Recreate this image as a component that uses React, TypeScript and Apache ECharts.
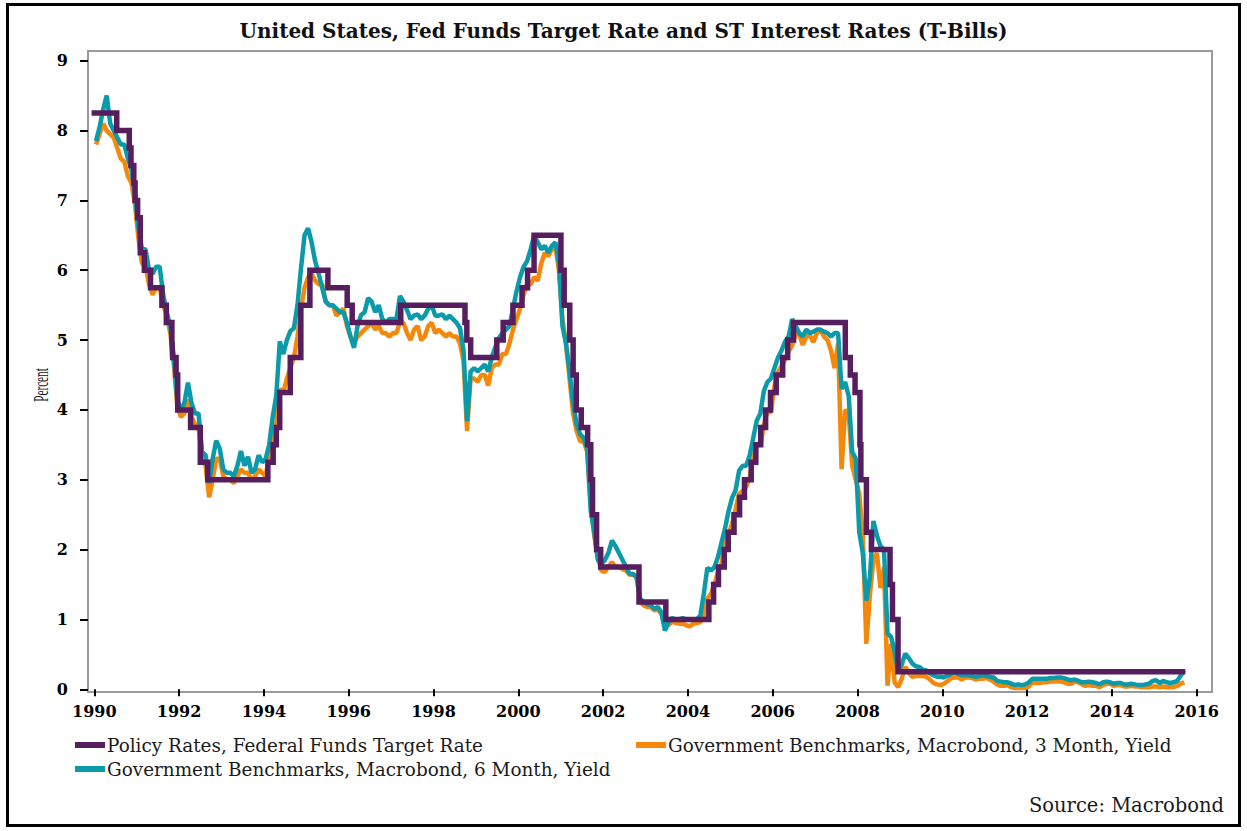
import React, { useEffect, useRef } from "react";
import * as echarts from "echarts";

const START_YEAR = 1990;

const seriesNames = [
  "Policy Rates, Federal Funds Target Rate",
  "Government Benchmarks, Macrobond, 3 Month, Yield",
  "Government Benchmarks, Macrobond, 6 Month, Yield",
];

const fedFundsChanges: [string, number][] = [
  ["1990-01-01", 8.25], ["1990-07-13", 8.0], ["1990-10-29", 7.75], ["1990-11-13", 7.5],
  ["1990-12-07", 7.25], ["1990-12-18", 7.0], ["1991-01-09", 6.75], ["1991-02-01", 6.25],
  ["1991-03-08", 6.0], ["1991-04-30", 5.75], ["1991-08-06", 5.5], ["1991-09-13", 5.25],
  ["1991-10-31", 5.0], ["1991-11-06", 4.75], ["1991-12-06", 4.5], ["1991-12-20", 4.0],
  ["1992-04-09", 3.75], ["1992-07-02", 3.25], ["1992-09-04", 3.0], ["1994-02-04", 3.25],
  ["1994-03-22", 3.5], ["1994-04-18", 3.75], ["1994-05-17", 4.25], ["1994-08-16", 4.75],
  ["1994-11-15", 5.5], ["1995-02-01", 6.0], ["1995-07-06", 5.75], ["1995-12-19", 5.5],
  ["1996-01-31", 5.25], ["1997-03-25", 5.5], ["1998-09-29", 5.25], ["1998-10-15", 5.0],
  ["1998-11-17", 4.75], ["1999-06-30", 5.0], ["1999-08-24", 5.25], ["1999-11-16", 5.5],
  ["2000-02-02", 5.75], ["2000-03-21", 6.0], ["2000-05-16", 6.5], ["2001-01-03", 6.0],
  ["2001-01-31", 5.5], ["2001-03-20", 5.0], ["2001-04-18", 4.5], ["2001-05-15", 4.0],
  ["2001-06-27", 3.75], ["2001-08-21", 3.5], ["2001-09-17", 3.0], ["2001-10-02", 2.5],
  ["2001-11-06", 2.0], ["2001-12-11", 1.75], ["2002-11-06", 1.25], ["2003-06-25", 1.0],
  ["2004-06-30", 1.25], ["2004-08-10", 1.5], ["2004-09-21", 1.75], ["2004-11-10", 2.0],
  ["2004-12-14", 2.25], ["2005-02-02", 2.5], ["2005-03-22", 2.75], ["2005-05-03", 3.0],
  ["2005-06-30", 3.25], ["2005-08-09", 3.5], ["2005-09-20", 3.75], ["2005-11-01", 4.0],
  ["2005-12-13", 4.25], ["2006-01-31", 4.5], ["2006-03-28", 4.75], ["2006-05-10", 5.0],
  ["2006-06-29", 5.25], ["2007-09-18", 4.75], ["2007-10-31", 4.5], ["2007-12-11", 4.25],
  ["2008-01-22", 3.5], ["2008-01-30", 3.0], ["2008-03-18", 2.25], ["2008-04-30", 2.0],
  ["2008-10-08", 1.5], ["2008-10-29", 1.0], ["2008-12-16", 0.25], ["2015-09-01", 0.25],
];

// monthly, Jan 1990 .. Sep 2015
const tbill3m: number[] = [
  7.80, 7.95, 8.10, 8.00, 7.95, 7.90, 7.75, 7.60, 7.55, 7.35, 7.25, 6.95,
  6.45, 6.10, 6.05, 5.80, 5.65, 5.75, 5.75, 5.50, 5.35, 5.10, 4.65, 4.05,
  3.90, 3.95, 4.15, 3.90, 3.80, 3.75, 3.30, 3.20, 2.75, 3.00, 3.30, 3.30,
  3.05, 3.00, 3.00, 2.95, 3.05, 3.15, 3.10, 3.10, 3.00, 3.05, 3.15, 3.10,
  3.05, 3.35, 3.55, 3.80, 4.30, 4.25, 4.45, 4.60, 4.75, 5.05, 5.45, 5.75,
  5.90, 5.95, 5.85, 5.80, 5.80, 5.55, 5.50, 5.50, 5.35, 5.40, 5.45, 5.20,
  5.05, 4.95, 5.05, 5.10, 5.15, 5.20, 5.25, 5.15, 5.20, 5.10, 5.10, 5.05,
  5.10, 5.10, 5.25, 5.25, 5.10, 5.00, 5.15, 5.20, 5.00, 5.05, 5.20, 5.25,
  5.10, 5.15, 5.10, 5.05, 5.10, 5.05, 5.05, 4.95, 4.70, 3.70, 4.45, 4.45,
  4.40, 4.50, 4.50, 4.35, 4.60, 4.65, 4.65, 4.80, 4.80, 4.95, 5.15, 5.30,
  5.45, 5.65, 5.80, 5.80, 5.90, 5.85, 6.10, 6.25, 6.20, 6.30, 6.35, 6.00,
  5.30, 4.95, 4.45, 3.95, 3.70, 3.55, 3.55, 3.40, 2.65, 2.20, 1.90, 1.70,
  1.68, 1.76, 1.82, 1.75, 1.75, 1.72, 1.70, 1.64, 1.65, 1.60, 1.25, 1.20,
  1.18, 1.18, 1.13, 1.14, 1.08, 0.90, 0.92, 0.97, 0.95, 0.94, 0.94, 0.92,
  0.90, 0.94, 0.95, 0.96, 1.05, 1.30, 1.36, 1.50, 1.68, 1.79, 2.10, 2.22,
  2.37, 2.58, 2.80, 2.84, 2.90, 3.04, 3.30, 3.52, 3.49, 3.79, 3.97, 3.97,
  4.34, 4.54, 4.63, 4.72, 4.84, 4.92, 5.08, 5.09, 4.93, 5.05, 5.07, 4.97,
  5.10, 5.15, 5.05, 5.00, 4.85, 4.60, 4.95, 3.15, 4.00, 3.95, 3.20, 3.00,
  2.80, 2.20, 0.65, 1.35, 1.85, 1.95, 1.45, 1.75, 0.05, 0.65, 0.10, 0.03,
  0.15, 0.32, 0.24, 0.18, 0.19, 0.19, 0.19, 0.18, 0.14, 0.09, 0.07, 0.06,
  0.08, 0.12, 0.16, 0.17, 0.17, 0.14, 0.17, 0.17, 0.16, 0.14, 0.15, 0.15,
  0.16, 0.14, 0.11, 0.07, 0.05, 0.05, 0.06, 0.03, 0.02, 0.02, 0.02, 0.02,
  0.04, 0.10, 0.09, 0.09, 0.10, 0.10, 0.11, 0.11, 0.12, 0.11, 0.10, 0.08,
  0.08, 0.11, 0.10, 0.07, 0.05, 0.06, 0.05, 0.05, 0.03, 0.06, 0.08, 0.08,
  0.05, 0.06, 0.06, 0.04, 0.04, 0.05, 0.04, 0.04, 0.03, 0.03, 0.03, 0.04,
  0.04, 0.03, 0.04, 0.03, 0.03, 0.03, 0.05, 0.08, 0.10,
];

const tbill6m: number[] = [
  7.85, 8.05, 8.30, 8.50, 8.10, 8.00, 7.90, 7.80, 7.80, 7.60, 7.45, 7.10,
  6.60, 6.30, 6.30, 6.00, 5.95, 6.05, 6.05, 5.65, 5.40, 5.20, 4.75, 4.15,
  4.00, 4.10, 4.39, 4.10, 3.95, 3.95, 3.40, 3.35, 2.95, 3.30, 3.56, 3.45,
  3.15, 3.10, 3.10, 3.05, 3.20, 3.41, 3.20, 3.33, 3.10, 3.15, 3.35, 3.25,
  3.30, 3.50, 3.90, 4.20, 4.98, 4.80, 5.00, 5.13, 5.17, 5.50, 6.03, 6.50,
  6.60, 6.40, 6.13, 5.95, 5.75, 5.55, 5.50, 5.50, 5.45, 5.40, 5.40, 5.25,
  5.05, 4.89, 5.20, 5.36, 5.40, 5.60, 5.55, 5.40, 5.50, 5.30, 5.25, 5.30,
  5.30, 5.30, 5.63, 5.55, 5.43, 5.30, 5.35, 5.37, 5.30, 5.35, 5.45, 5.50,
  5.35, 5.35, 5.37, 5.30, 5.35, 5.30, 5.25, 5.17, 4.85, 3.84, 4.55, 4.60,
  4.55, 4.60, 4.65, 4.55, 4.75, 4.90, 5.03, 5.10, 5.15, 5.20, 5.45, 5.70,
  5.90, 6.05, 6.13, 6.30, 6.50, 6.40, 6.30, 6.35, 6.25, 6.35, 6.40, 6.10,
  5.20, 4.95, 4.55, 4.10, 3.80, 3.65, 3.60, 3.45, 2.55, 2.25, 1.85, 1.80,
  1.85, 1.95, 2.13, 2.05, 1.95, 1.85, 1.75, 1.65, 1.65, 1.60, 1.30, 1.25,
  1.22, 1.20, 1.15, 1.18, 1.10, 0.84, 0.96, 1.02, 1.00, 1.00, 1.02, 1.00,
  1.00, 1.00, 1.00, 1.05, 1.37, 1.74, 1.70, 1.75, 1.89, 2.10, 2.30, 2.55,
  2.74, 2.85, 3.13, 3.20, 3.20, 3.35, 3.60, 3.85, 3.95, 4.27, 4.40, 4.45,
  4.60, 4.75, 4.85, 4.98, 5.05, 5.30, 5.20, 5.10, 5.05, 5.15, 5.10, 5.12,
  5.15, 5.15, 5.12, 5.10, 5.05, 5.10, 5.10, 4.30, 4.40, 4.20, 3.40, 3.30,
  2.25, 1.95, 1.27, 1.60, 2.41, 2.20, 2.05, 2.00, 0.80, 0.75, 0.55, 0.25,
  0.35, 0.51, 0.45, 0.37, 0.33, 0.32, 0.28, 0.27, 0.23, 0.20, 0.18, 0.18,
  0.17, 0.20, 0.22, 0.24, 0.22, 0.20, 0.20, 0.20, 0.19, 0.18, 0.19, 0.20,
  0.19, 0.18, 0.17, 0.12, 0.11, 0.10, 0.10, 0.08, 0.06, 0.07, 0.06, 0.07,
  0.10, 0.15, 0.15, 0.15, 0.15, 0.15, 0.16, 0.16, 0.17, 0.17, 0.16, 0.14,
  0.13, 0.14, 0.12, 0.10, 0.10, 0.11, 0.10, 0.09, 0.07, 0.10, 0.11, 0.10,
  0.08, 0.09, 0.09, 0.07, 0.07, 0.08, 0.07, 0.06, 0.06, 0.07, 0.08, 0.12,
  0.13, 0.09, 0.12, 0.10, 0.09, 0.10, 0.12, 0.20, 0.27,
];

const xTickYears = [1990, 1992, 1994, 1996, 1998, 2000, 2002, 2004, 2006, 2008, 2010, 2012, 2014, 2016];
const yTicks = [0, 1, 2, 3, 4, 5, 6, 7, 8, 9];

const COLORS = { policy: "#561e5e", m3: "#f5880b", m6: "#0a9aa9" };
const SERIF = "'DejaVu Serif', 'Liberation Serif', serif";

function toYear(s: string): number {
  const [y, m, d] = s.split("-").map(Number);
  const a = Date.UTC(y, 0, 1);
  const b = Date.UTC(y + 1, 0, 1);
  return y + (Date.UTC(y, m - 1, d) - a) / (b - a);
}

function monthly(values: number[]): [number, number][] {
  return values.map((v, i) => [START_YEAR + (i + 0.5) / 12, v]);
}

export default function App() {
  const ref = useRef<HTMLDivElement>(null);

  useEffect(() => {
    document.body.style.margin = "0";
    if (!ref.current) return;
    const chart = echarts.init(ref.current, undefined, { renderer: "svg" });

    const legendBase = {
      icon: "rect",
      itemWidth: 30,
      itemHeight: 6,
      itemGap: 0,
      padding: 0,
      selectedMode: false,
      textStyle: { fontFamily: SERIF, fontSize: 18.4, color: "#1a1a1a", padding: [0, 0, 0, -3] },
    };

    chart.setOption({
      animation: false,
      backgroundColor: "#ffffff",
      title: {
        text: "United States, Fed Funds Target Rate and ST Interest Rates (T-Bills)",
        left: "center",
        top: 16,
        textStyle: { fontFamily: SERIF, fontWeight: "bold", fontSize: 20, color: "#111" },
      },
      legend: [
        { ...legendBase, data: [seriesNames[0]], left: 75, top: 736 },
        { ...legendBase, data: [seriesNames[1]], left: 636, top: 736 },
        { ...legendBase, data: [seriesNames[2]], left: 75, top: 760 },
      ],
      grid: { left: 94.3, right: 50.3, top: 60.7, bottom: 141.7, containLabel: false },
      xAxis: {
        type: "value",
        min: xTickYears[0],
        max: xTickYears[xTickYears.length - 1],
        interval: 2,
        offset: 3,
        axisLine: { show: false },
        axisTick: { show: true, length: 7, lineStyle: { color: "#000", width: 2 } },
        splitLine: { show: false },
        axisLabel: {
          margin: 11,
          fontFamily: SERIF,
          fontWeight: "bold",
          fontSize: 16,
          color: "#000",
          formatter: (v: number) => String(v),
        },
      },
      yAxis: {
        type: "value",
        min: yTicks[0],
        max: yTicks[yTicks.length - 1],
        interval: 1,
        offset: 6.3,
        axisLine: { show: false },
        axisTick: { show: true, length: 8, lineStyle: { color: "#000", width: 2 } },
        splitLine: { show: false },
        axisLabel: {
          margin: 20,
          fontFamily: SERIF,
          fontWeight: "bold",
          fontSize: 16,
          color: "#000",
        },
      },
      graphic: [
        {
          type: "rect",
          silent: true,
          shape: { x: 7.5, y: 4.5, width: 1232, height: 821 },
          style: { fill: "none", stroke: "#000", lineWidth: 3 },
        },
        {
          type: "rect",
          silent: true,
          shape: { x: 88, y: 51, width: 1124, height: 641 },
          style: { fill: "none", stroke: "#9a9a9a", lineWidth: 2 },
          z: 0,
        },
        {
          type: "text",
          silent: true,
          x: 42,
          y: 385,
          rotation: Math.PI / 2,
          scaleX: 0.56,
          style: {
            text: "Percent",
            fontFamily: "'Liberation Serif', serif",
            fontSize: 20,
            fill: "#111",
            align: "center",
            verticalAlign: "middle",
          },
        },
        {
          type: "text",
          silent: true,
          x: 1224,
          y: 805,
          style: {
            text: "Source: Macrobond",
            fontFamily: SERIF,
            fontSize: 19.5,
            fill: "#1a1a1a",
            align: "right",
            verticalAlign: "middle",
          },
        },
      ],
      series: [
        {
          name: seriesNames[1],
          type: "line",
          data: monthly(tbill3m),
          showSymbol: false,
          symbol: "none",
          color: COLORS.m3,
          lineStyle: { width: 4.5, color: COLORS.m3 },
          z: 2,
        },
        {
          name: seriesNames[2],
          type: "line",
          data: monthly(tbill6m),
          showSymbol: false,
          symbol: "none",
          color: COLORS.m6,
          lineStyle: { width: 4.5, color: COLORS.m6 },
          z: 3,
        },
        {
          name: seriesNames[0],
          type: "line",
          step: "end",
          data: fedFundsChanges.map(([d, v]) => [toYear(d), v]),
          showSymbol: false,
          symbol: "none",
          color: COLORS.policy,
          lineStyle: { width: 5.5, color: COLORS.policy, join: "miter", cap: "square" },
          z: 4,
        },
      ],
    });

    return () => chart.dispose();
  }, []);

  return <div ref={ref} style={{ width: 1247, height: 831 }} />;
}
